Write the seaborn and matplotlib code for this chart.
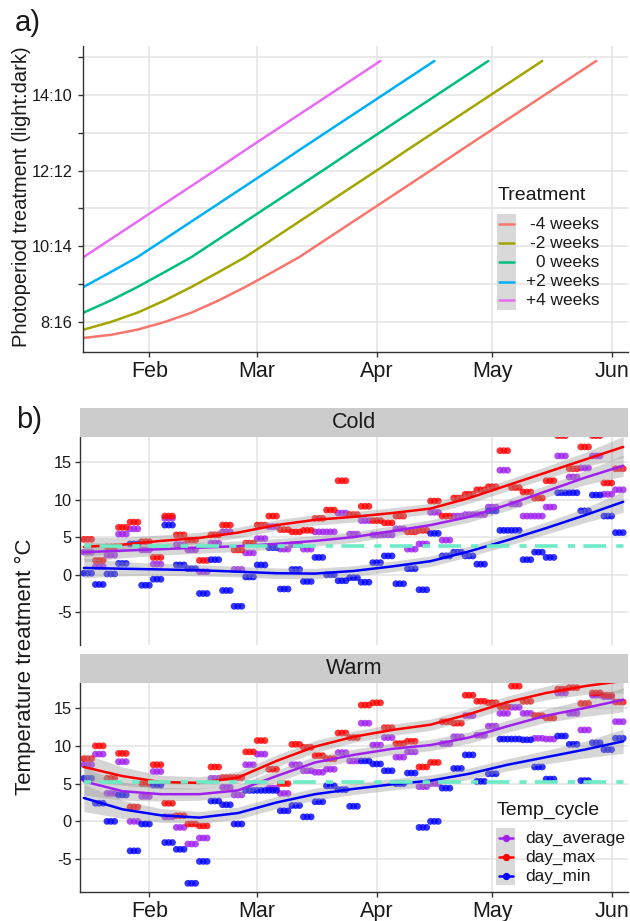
import numpy as np
import pandas as pd
import matplotlib
matplotlib.use("Agg")
import matplotlib.pyplot as plt
import matplotlib.dates as mdates
from matplotlib.lines import Line2D
from matplotlib.patches import Rectangle
import seaborn as sns

# ------------------------------------------------------------------ data
# Panel a: photoperiod (hours of light), weekly values starting 15 Jan
photo_start = "2021-01-15"
treatments = ["-4 weeks", "-2 weeks", "0 weeks", "+2 weeks", "+4 weeks"]
treat_colors = ["#F8766D", "#A3A500", "#00BF7D", "#00B0F6", "#E76BF3"]
photo_m4 = [7.58, 7.66, 7.80, 8.00, 8.25, 8.57, 8.93, 9.32, 9.72, 10.19,
            10.66, 11.13, 11.60, 12.07, 12.55, 13.02, 13.49, 13.96, 14.43, 14.90]
photo_m2 = [7.80, 8.00, 8.25, 8.57, 8.93, 9.32, 9.72, 10.19, 10.66, 11.13,
            11.60, 12.07, 12.55, 13.02, 13.49, 13.96, 14.43, 14.90]
photo_0 = [8.25, 8.57, 8.93, 9.32, 9.72, 10.19, 10.66, 11.13, 11.60, 12.07,
           12.55, 13.02, 13.49, 13.96, 14.43, 14.90]
photo_p2 = [8.93, 9.32, 9.72, 10.19, 10.66, 11.13, 11.60, 12.07, 12.55, 13.02,
            13.49, 13.96, 14.43, 14.90]
photo_p4 = [9.72, 10.19, 10.66, 11.13, 11.60, 12.07, 12.55, 13.02, 13.49, 13.96,
            14.43, 14.90]
photo_ticks = [8, 9, 10, 11, 12, 13, 14, 15]
photo_tick_labels = ["8:16", "", "10:14", "", "12:12", "", "14:10", ""]

# Panel b: temperatures, each value held for a 3-day block starting 15 Jan
temp_start = "2021-01-15"
block_len = 3
cycles = ["day_average", "day_max", "day_min"]
cycle_colors = ["#A020F0", "#FF0000", "#0000FF"]

cold_avg = [3.0, 1.1, 2.6, 5.4, 6.1, 3.3, 1.4, 7.5, 4.0, 3.3, 0.4, 4.2, 5.7, 0.7, 2.9, 4.8,
            6.4, 3.4, 4.0, 3.4, 5.7, 5.7, 8.2, 5.4, 7.2, 5.3, 5.3, 6.1, 3.4, 4.1, 8.3, 4.6,
            7.8, 8.0, 8.0, 9.0, 13.9, 9.4, 7.8, 7.8, 9.0, 15.8, 13.0, 14.2, 15.8, 10.7, 11.3]
cold_max = [4.7, 1.9, 3.7, 6.3, 7.0, 4.4, 2.3, 7.8, 5.3, 4.6, 1.9, 5.3, 6.6, 3.3, 4.2, 6.6,
            7.8, 6.0, 5.7, 5.9, 7.5, 8.6, 12.5, 8.0, 9.1, 7.2, 6.9, 7.8, 5.7, 5.9, 9.8, 7.8,
            10.2, 10.7, 11.3, 11.7, 16.5, 11.6, 11.0, 10.2, 12.5, 18.5, 14.1, 17.0, 18.5, 12.2, 14.1]
cold_min = [0.2, -1.3, 0.1, 1.5, 4.1, -1.4, -0.6, 6.6, 1.3, 0.8, -2.5, 2.0, -2.1, -4.2, -0.3, 1.3,
            3.6, -1.9, 0.7, -0.9, 2.3, 0.0, -0.8, -0.4, -1.0, 1.6, 2.5, -1.2, 0.8, -2.0, 5.5, 2.5,
            3.0, 2.5, 1.4, 8.5, 5.9, 5.9, 2.0, 3.0, 2.3, 10.9, 10.9, 8.5, 10.6, 7.8, 5.6]

warm_avg = [7.5, 8.9, 3.7, 7.9, 0.0, 3.3, 6.6, 0.6, -0.8, -3.0, -2.2, 5.7, 4.5, 3.5, 7.5, 8.9,
            4.4, 3.7, 7.5, 6.7, 6.5, 6.9, 9.1, 8.0, 13.0, 10.1, 11.1, 8.5, 9.2, 4.6, 5.0, 10.3,
            11.2, 14.0, 11.4, 12.6, 14.3, 15.1, 14.3, 11.0, 10.9, 17.0, 14.3, 12.1, 16.7, 16.5, 13.2]
warm_max = [8.3, 10.0, 5.7, 9.0, 1.9, 5.0, 7.5, 2.4, 0.75, -0.35, -0.6, 7.2, 5.8, 5.8, 9.2, 10.7,
            6.9, 5.0, 10.2, 9.8, 8.7, 8.3, 11.7, 11.1, 15.4, 15.7, 12.4, 10.3, 10.6, 7.2, 7.8, 13.2,
            13.0, 16.7, 15.9, 15.7, 15.2, 17.9, 15.9, 14.0, 13.7, 17.5, 17.7, 15.6, 17.0, 16.7, 15.8]
warm_min = [5.7, 2.4, 0.0, 3.5, -3.9, -0.35, 4.8, -2.8, -3.7, -8.2, -5.3, 2.7, 2.2, -0.35, 4.1, 4.1,
            4.1, 1.4, 2.1, 0.6, 2.6, 4.7, 4.2, 2.0, 8.0, 7.6, 6.7, 5.0, 6.4, -0.8, 0.0, 4.4,
            7.0, 8.8, 5.3, 6.3, 10.9, 10.9, 10.8, 7.2, 5.6, 11.3, 10.2, 5.4, 10.4, 9.5, 11.0]

# smoothed trends at these day offsets
smooth_days = [0, 10, 20, 30, 40, 50, 60, 70, 80, 90, 100, 110, 120, 130, 140]
cold_avg_fit = [3.0, 3.2, 3.4, 3.6, 3.8, 4.1, 4.5, 5.0, 5.8, 6.6, 7.7, 9.3, 11.1, 12.9, 14.5]
cold_max_fit = [3.7, 4.0, 4.5, 4.9, 5.6, 6.6, 7.3, 7.7, 8.2, 8.8, 10.2, 11.9, 13.6, 15.3, 17.0]
cold_min_fit = [0.9, 0.8, 0.7, 0.6, 0.4, 0.2, 0.15, 0.5, 1.1, 1.8, 3.1, 4.6, 6.2, 7.9, 9.7]
cold_band = [1.3, 0.95, 0.8, 0.75, 0.7, 0.7, 0.7, 0.7, 0.7, 0.7, 0.7, 0.75, 0.8, 0.95, 1.4]
warm_avg_fit = [5.3, 4.0, 3.6, 3.6, 4.1, 6.0, 7.8, 8.8, 9.6, 10.1, 11.1, 12.6, 14.0, 15.0, 16.1]
warm_max_fit = [7.2, 6.0, 5.2, 5.1, 5.8, 8.0, 9.9, 11.2, 12.1, 12.8, 14.2, 15.8, 17.0, 17.9, 18.6]
warm_min_fit = [3.1, 1.6, 0.8, 0.5, 1.1, 2.5, 3.6, 4.3, 4.9, 5.4, 6.3, 7.5, 8.5, 9.5, 10.6]
warm_band = [1.8, 1.2, 0.9, 0.8, 0.8, 0.8, 0.8, 0.75, 0.75, 0.75, 0.75, 0.8, 0.9, 1.1, 1.6]

cold_ref = 3.85
warm_ref = 5.25

month_ticks = ["2021-02-01", "2021-03-01", "2021-04-01", "2021-05-01", "2021-06-01"]
temp_ticks = [-5, 0, 5, 10, 15]

# ------------------------------------------------------------------ style
W, H = 630, 921
sns.set_theme(style="white")
plt.rcParams["font.family"] = ["Liberation Sans", "DejaVu Sans"]
plt.rcParams["axes.unicode_minus"] = False
TXT = "#1A1A1A"
AX = "#333333"
GRID = "#E3E3E3"

fig = plt.figure(figsize=(W / 100, H / 100), dpi=100)


def fr(x0, y0, x1, y1):
    return [x0 / W, 1 - y1 / H, (x1 - x0) / W, (y1 - y0) / H]


def style_axes(ax, show_x=True):
    ax.set_facecolor("white")
    for s in ["top", "right"]:
        ax.spines[s].set_visible(False)
    ax.spines["left"].set_color(AX)
    ax.spines["left"].set_linewidth(1.0)
    ax.spines["bottom"].set_color(AX)
    ax.spines["bottom"].set_linewidth(1.0)
    ax.spines["bottom"].set_visible(show_x)
    ax.grid(True, color=GRID, linewidth=1.1)
    ax.set_axisbelow(True)
    ax.set_xticks(pd.to_datetime(month_ticks))
    ax.xaxis.set_major_formatter(mdates.DateFormatter("%b"))
    ax.tick_params(axis="x", length=3.6 if show_x else 0, width=1.0, color=AX,
                   labelsize=15.5, labelcolor=TXT, pad=3.2, labelbottom=show_x, bottom=show_x)
    ax.set_xlabel("")
    ax.set_ylabel("")


# ------------------------------------------------------------------ panel a
ax_a = fig.add_axes(fr(83, 46, 628, 352))
rows = []
for t, vals in zip(treatments, [photo_m4, photo_m2, photo_0, photo_p2, photo_p4]):
    d = pd.date_range(photo_start, periods=len(vals), freq="7D")
    rows.append(pd.DataFrame({"date": d, "hours": vals, "Treatment": t}))
df_a = pd.concat(rows, ignore_index=True)
sns.lineplot(data=df_a, x="date", y="hours", hue="Treatment", hue_order=treatments,
             palette=treat_colors, linewidth=1.8, ax=ax_a, legend=False)
style_axes(ax_a, True)
ax_a.set_xlim(pd.Timestamp("2021-01-14 19:00"), pd.Timestamp("2021-06-05 06:00"))
ax_a.set_ylim(7.207, 15.295)
ax_a.set_yticks(photo_ticks)
ax_a.set_yticklabels(photo_tick_labels)
ax_a.tick_params(axis="y", length=3.6, width=1.0, color=AX, labelsize=11.8,
                 labelcolor=TXT, pad=4.0, left=True)

# legend a (drawn by hand so labels are right aligned like the original)
fig.text(498 / W, 1 - 196 / H, "Treatment", size=14, color=TXT, ha="left", va="center")
fig.add_artist(Rectangle((497 / W, 1 - 310 / H), 19 / W, 96 / H, transform=fig.transFigure,
                         facecolor="#D9D9D9", edgecolor="none"))
for i, (t, c) in enumerate(zip(treatments, treat_colors)):
    yc = 1 - (224.5 + 19.0 * i) / H
    fig.add_artist(Line2D([499 / W, 514 / W], [yc, yc], transform=fig.transFigure,
                          color=c, linewidth=1.8))
    fig.text(599 / W, yc, t, size=12.4, color=TXT, ha="right", va="center")


# ------------------------------------------------------------------ panel b
def temp_frame(avg, mx, mn):
    parts = []
    for cyc, vals in zip(cycles, [avg, mx, mn]):
        v = np.repeat(np.asarray(vals, float), block_len)
        d = pd.Timestamp(temp_start) + pd.to_timedelta(np.arange(len(v)), unit="D")
        parts.append(pd.DataFrame({"date": d, "temp": v, "Temp_cycle": cyc}))
    return pd.concat(parts, ignore_index=True)


def smooth_frame(avg, mx, mn):
    d = pd.Timestamp(temp_start) + pd.to_timedelta(smooth_days, unit="D")
    parts = []
    for cyc, vals in zip(cycles, [avg, mx, mn]):
        parts.append(pd.DataFrame({"date": d, "temp": vals, "Temp_cycle": cyc}))
    return pd.concat(parts, ignore_index=True)


def facet(box, strip_box, label, pts, fits, band, ref, show_x):
    ax = fig.add_axes(fr(*box))
    sns.scatterplot(data=pts, x="date", y="temp", hue="Temp_cycle", hue_order=cycles,
                    palette=cycle_colors, s=24, alpha=0.8, linewidth=0, legend=False,
                    ax=ax, zorder=2)
    sm = smooth_frame(*fits)
    sd = pd.Timestamp(temp_start) + pd.to_timedelta(smooth_days, unit="D")
    b = np.asarray(band)
    for vals in fits:
        v = np.asarray(vals)
        ax.fill_between(sd, v - b, v + b, color="#999999", alpha=0.4, linewidth=0, zorder=3)
    sns.lineplot(data=sm, x="date", y="temp", hue="Temp_cycle", hue_order=cycles,
                 palette=cycle_colors, linewidth=1.8, legend=False, ax=ax, zorder=4)
    ax.axhline(ref, color="#6DEBC6", linewidth=2.6,
               linestyle=(8.0, (6.3, 2.8, 2.0, 2.3)), zorder=6)
    style_axes(ax, show_x)
    ax.set_xlim(pd.Timestamp("2021-01-14 00:00"), pd.Timestamp("2021-06-05 06:00"))
    ax.set_ylim(-9.35, 18.32)
    ax.set_yticks(temp_ticks)
    ax.set_yticklabels([str(t) for t in temp_ticks])
    ax.tick_params(axis="y", length=3.6, width=1.0, color=AX, labelsize=11.8,
                   labelcolor=TXT, pad=2.2, left=True)
    sax = fig.add_axes(fr(*strip_box))
    sax.set_facecolor("#CCCCCC")
    sax.set_xticks([])
    sax.set_yticks([])
    for s in sax.spines.values():
        s.set_visible(False)
    sax.text(0.5, 0.5, label, ha="center", va="center", size=15.5, color=TXT,
             transform=sax.transAxes)
    return ax


facet((80, 437, 628, 645), (80, 408, 628, 437), "Cold",
      temp_frame(cold_avg, cold_max, cold_min),
      [cold_avg_fit, cold_max_fit, cold_min_fit], cold_band, cold_ref, False)
facet((80, 683, 628, 892), (80, 654, 628, 683), "Warm",
      temp_frame(warm_avg, warm_max, warm_min),
      [warm_avg_fit, warm_max_fit, warm_min_fit], warm_band, warm_ref, True)

# legend b
fig.text(497 / W, 1 - 810 / H, "Temp_cycle", size=14, color=TXT, ha="left", va="center")
fig.add_artist(Rectangle((496 / W, 1 - 885 / H), 19 / W, 57 / H, transform=fig.transFigure,
                         facecolor="#D9D9D9", edgecolor="none"))
for i, (cyc, c) in enumerate(zip(cycles, cycle_colors)):
    yc = 1 - (838 + 19.0 * i) / H
    fig.add_artist(Line2D([499 / W, 513 / W], [yc, yc], transform=fig.transFigure,
                          color=c, linewidth=1.8))
    fig.add_artist(Line2D([506 / W], [yc], transform=fig.transFigure, color=c,
                          marker="o", markersize=4.2, linestyle="none"))
    fig.text(525 / W, yc, cyc, size=12.4, color=TXT, ha="left", va="center")

# titles / axis labels
fig.text(15 / W, 1 - 23 / H, "a)", size=21, color=TXT, ha="left", va="center")
fig.text(16 / W, 1 - 420 / H, "b)", size=21, color=TXT, ha="left", va="center")
fig.text(22 / W, 1 - 197 / H, "Photoperiod treatment (light:dark)", size=14.5, color=TXT,
         rotation=90, ha="center", va="center")
fig.text(25 / W, 1 - 667 / H, "Temperature treatment °C", size=16, color=TXT,
         rotation=90, ha="center", va="center")

fig.savefig("out.png", dpi=100)
